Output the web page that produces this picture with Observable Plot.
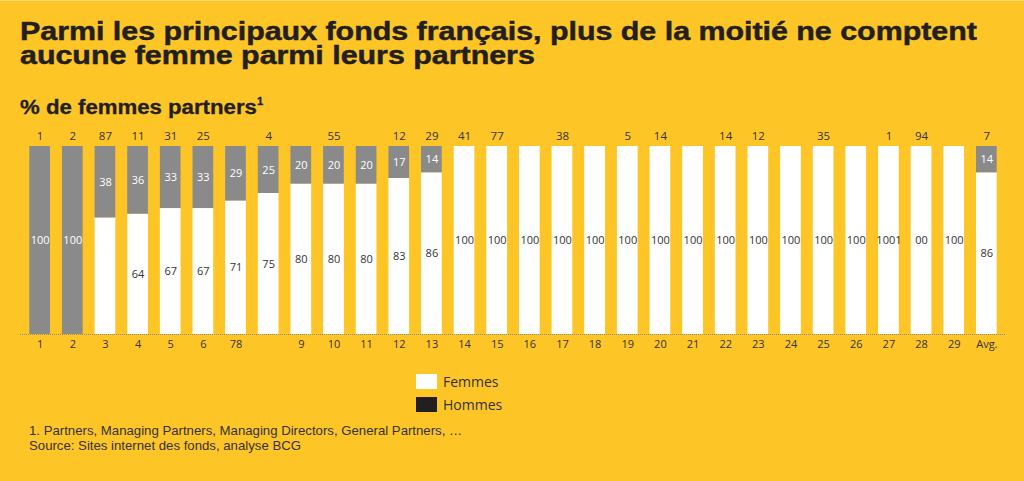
<!DOCTYPE html>
<html>
<head>
<meta charset="utf-8">
<script src="https://cdn.jsdelivr.net/npm/d3@7"></script>
<script src="https://cdn.jsdelivr.net/npm/@observablehq/plot@0.6"></script>
<style>
  html, body { margin: 0; padding: 0; }
  body { width: 1024px; height: 481px; background: #FEC526; position: relative; overflow: hidden; font-family: "Liberation Sans", Arial, sans-serif; color: #231f20; }
  #topline { position: absolute; left: 0; top: 0; width: 1024px; height: 1px; background: #FFDC70; }
  #title { position: absolute; left: 20px; top: 18.5px; font-size: 26.5px; font-weight: bold; line-height: 24.5px; -webkit-text-stroke: 0.5px #231f20; white-space: nowrap; transform: scaleX(1.146); transform-origin: 0 0; }
  #subtitle { position: absolute; left: 20px; top: 96px; font-size: 20px; font-weight: bold; -webkit-text-stroke: 0.3px #231f20; white-space: nowrap; transform: scaleX(1.11); transform-origin: 0 0; }
  #subtitle sup { font-size: 10px; vertical-align: 9px; line-height: 0; }
  #chart { position: absolute; left: 0; top: 118px; }
  #legend { position: absolute; left: 416px; top: 370px; font-family: "Open Sans", sans-serif; font-size: 14px; color: #333; }
  .item { display: flex; align-items: center; height: 23px; }
  .sw { width: 21px; height: 15px; margin-right: 6px; }
  #notes { position: absolute; left: 29px; top: 423px; font-size: 13.2px; line-height: 15px; color: #333; }
</style>
</head>
<body>
<div id="topline"></div>
<div id="title">Parmi les principaux fonds français, plus de la moitié ne comptent<br>aucune femme parmi leurs partners</div>
<div id="subtitle">% de femmes partners<sup>1</sup></div>
<div id="chart"></div>
<div id="legend">
  <div class="item"><div class="sw" style="background:#fff"></div>Femmes</div>
  <div class="item"><div class="sw" style="background:#231f20"></div>Hommes</div>
</div>
<div id="notes">1. Partners, Managing Partners, Managing Directors, General Partners, …<br>Source: Sites internet des fonds, analyse BCG</div>
<script>
const funds = ["1","2","3","4","5","6","7","8","9","10","11","12","13","14","15","16","17","18","19","20","21","22","23","24","25","26","27","28","29","Avg."];
const tickLabels = ["1","2","3","4","5","6","78","","9","10","11","12","13","14","15","16","17","18","19","20","21","22","23","24","25","26","27","28","29","Avg."];
const femmes = [0,0,62,64,67,67,71,75,80,80,80,83,86,100,100,100,100,100,100,100,100,100,100,100,100,100,100,100,100,86];
const hommes = [100,100,38,36,33,33,29,25,20,20,20,17,14,0,0,0,0,0,0,0,0,0,0,0,0,0,0,0,0,14];
const femmesLabels = ["","","","64","67","67","71","75","80","80","80","83","86","100","100","100","100","100","100","100","100","100","100","100","100","100","1001","00","100","86"];
const hommesLabels = ["100","100","38","36","33","33","29","25","20","20","20","17","14","","","","","","","","","","","","","","","","","14"];
const topLabels = ["1","2","87","11","31","25","","4","","55","","12","29","41","77","","38","","5","14","","14","12","","35","","1","94","","7"];

const rows = [];
funds.forEach((f, i) => {
  rows.push({fund: f, sex: "Femmes", value: femmes[i], label: femmesLabels[i]});
  rows.push({fund: f, sex: "Hommes", value: hommes[i], label: hommesLabels[i]});
});
const tickMap = new Map(funds.map((f, i) => [f, tickLabels[i]]));
const order = ["Femmes", "Hommes"];
const labelFont = "'Open Sans', sans-serif";

const chart = Plot.plot({
  width: 1024,
  height: 240,
  marginLeft: 20,
  marginRight: 18,
  marginTop: 28,
  marginBottom: 24,
  style: {background: "transparent", fontFamily: labelFont},
  x: {domain: funds, paddingInner: 0.366, paddingOuter: 0.285, round: false, label: null},
  y: {domain: [0, 100], axis: null},
  color: {domain: order, range: ["#ffffff", "#8a8a8a"]},
  marks: [
    Plot.barY(rows, {x: "fund", y: "value", fill: "sex", order}),
    Plot.text(rows, Plot.stackY({x: "fund", y: "value", z: "sex", order, text: d => d.sex === "Hommes" ? d.label : "", fill: "#ffffff", fontSize: 11})),
    Plot.text(rows, Plot.stackY({x: "fund", y: "value", z: "sex", order, text: d => d.sex === "Femmes" ? d.label : "", fill: "#333333", fontSize: 11})),
    Plot.text(funds, {x: d => d, y: 100, text: (d, i) => topLabels[i], dy: -10, fill: "#333333", fontSize: 11.5}),
    Plot.ruleY([0], {stroke: "#8c8c8c", strokeDasharray: "1,1"}),
    Plot.axisX({tickSize: 0, tickPadding: 6, tickFormat: d => tickMap.get(d), fill: "#333333", fontSize: 11, label: null})
  ]
});
document.getElementById("chart").appendChild(chart);
</script>
</body>
</html>
